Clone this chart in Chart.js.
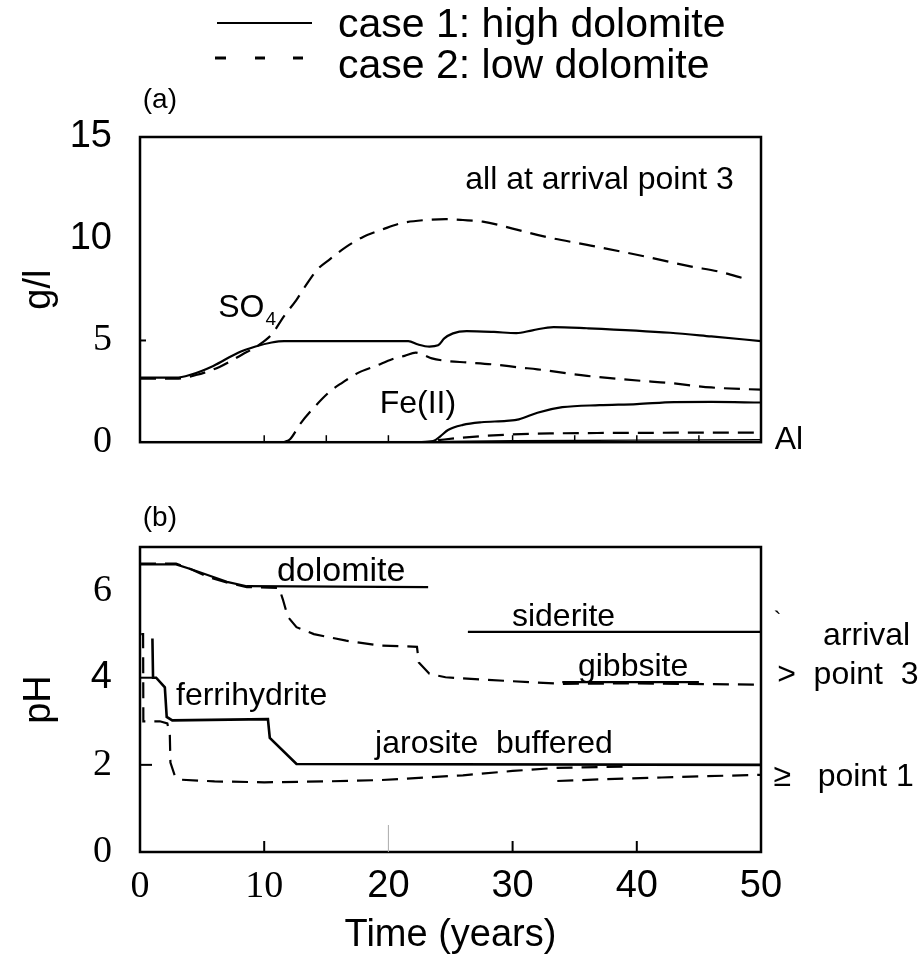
<!DOCTYPE html>
<html>
<head>
<meta charset="utf-8">
<script src="https://cdn.jsdelivr.net/npm/chart.js@4.4.0/dist/chart.umd.min.js"></script>
<style>
  html, body { margin: 0; padding: 0; background: #fff; }
  #wrap { position: relative; width: 923px; height: 959px; }
  canvas { position: absolute; left: 0; }
  #chart-a { top: 0; z-index: 2; }
  #chart-b { top: 470px; z-index: 1; }
</style>
</head>
<body>
<div id="wrap">
  <canvas id="chart-a" width="923" height="493"></canvas>
  <canvas id="chart-b" width="923" height="489"></canvas>
</div>
<script>
// ---------- data ----------
const timeTicks = [0, 10, 20, 30, 40, 50];
const gTicks = [0, 5, 10, 15];
const phTicks = [0, 2, 4, 6];

// (a) concentrations in g/l at arrival point 3, [year, value]
const so4High = [[0,3.17],[2.9,3.17],[4,3.3],[5.9,3.75],[7.9,4.4],[9.3,4.7],[10.6,4.9],[11.6,4.97],[21.6,4.97],[22.4,4.8],[23.3,4.7],[24,4.76],[24.5,5.1],[25.2,5.35],[26.3,5.46],[28.5,5.42],[30.3,5.36],[31.6,5.5],[33.3,5.66],[36,5.6],[42.7,5.38],[46,5.2],[50,4.97]];
const so4Low = [[0,3.12],[2.9,3.12],[4.5,3.3],[6.4,3.7],[8.2,4.3],[9.5,4.75],[10.6,5.3],[11.6,6.2],[12.6,7.0],[13.3,7.66],[14.3,8.5],[15.3,9.0],[16.6,9.6],[18,10.1],[19.5,10.45],[21,10.76],[23,10.92],[24.6,10.96],[26,10.92],[27.6,10.84],[30,10.5],[32.6,10.1],[36,9.7],[39.3,9.3],[42,8.95],[44.3,8.64],[46.5,8.4],[48.8,8.02]];
const feHigh = [[22.4,0],[23.6,0.05],[24.2,0.3],[24.8,0.6],[26,0.85],[27.5,0.98],[29.5,1.05],[30.5,1.12],[32,1.45],[34,1.72],[37,1.82],[40,1.87],[43,1.97],[46,1.98],[50,1.95]];
const feLow = [[11.6,0],[12.1,0.16],[12.9,0.9],[14,1.7],[15.3,2.5],[16.3,2.93],[17.6,3.42],[19,3.75],[20.3,4.08],[21.3,4.24],[22.2,4.4],[22.8,4.3],[23.5,4.12],[24.6,4.0],[26.3,3.92],[28.3,3.83],[30.6,3.67],[32,3.58],[36,3.26],[40.7,3.0],[42.3,2.93],[46,2.69],[50,2.58]];
const alHigh = [[23,0.02],[30,0.07],[40,0.1],[50,0.12]];
const alLow = [[24,0.1],[25.5,0.2],[27.5,0.3],[30,0.38],[33,0.43],[40,0.46],[50,0.47]];

// (b) pH, [year, value]
const dolomiteHigh = [[0,6.6],[2.9,6.6],[4,6.5],[5.5,6.35],[7,6.2],[8.6,6.1],[23.2,6.08]];
const sideriteHigh = [[26.4,5.05],[50,5.05]];
const gibbsiteHigh = [[34,3.9],[45,3.9]];
const phLow3 = [[0,6.62],[2.9,6.62],[4.2,6.48],[5.6,6.3],[7.2,6.17],[8.6,6.08],[11.2,6.06],[11.5,5.8],[11.9,5.4],[12.6,5.16],[14,5.0],[16.6,4.85],[19.3,4.74],[22.3,4.71],[22.45,4.35],[23.3,4.09],[24.6,4.01],[29.3,3.93],[34,3.86],[39.3,3.87],[50,3.84]];
const phHigh1 = [[1.0,4.9],[1.05,4.0],[1.3,4.0],[2.0,3.78],[2.15,3.1],[2.6,3.02],[10.3,3.05],[10.45,2.62],[12.6,2.02],[50,2.0]];
const phLow1 = [[0.1,5.0],[0.25,5.0],[0.27,3.0],[1.6,3.0],[2.2,2.95],[2.4,2.7],[2.45,2.05],[2.8,1.75],[3.3,1.66],[6,1.62],[10,1.6],[15,1.62],[19.3,1.65],[26,1.76],[30,1.86],[33.5,1.93],[39.3,1.96]];
const phLow1b = [[33.6,1.63],[37.3,1.67],[42,1.71],[45.5,1.74],[50,1.77]];

// tick labels that are set in a serif face in the original
const serifTicks = { x: [0, 10], g: [0, 5], ph: [0, 2, 6] };

// ---------- helpers ----------
const FAMILY = '"Liberation Sans", Arial, Helvetica, sans-serif';
const SERIF = '"Liberation Serif", "Times New Roman", serif';
const pts = (a) => a.map(([x, y]) => ({ x, y }));
const DASH = [16, 9];

function line(data, dashed, opts) {
  return Object.assign({
    data: pts(data),
    borderColor: '#000',
    borderWidth: 2.2,
    borderDash: dashed ? DASH : [],
    pointRadius: 0,
    fill: false,
    tension: 0,
  }, opts || {});
}

// box round the plot area
const frame = {
  id: 'frame',
  afterDatasetsDraw(chart) {
    const { ctx, chartArea: a } = chart;
    ctx.save();
    ctx.strokeStyle = '#000';
    ctx.lineWidth = 2.5;
    ctx.strokeRect(a.left, a.top, a.right - a.left, a.bottom - a.top);
    ctx.restore();
  }
};

// short tick marks pointing into the plot, placed by the scales
function innerTicks(list) {
  return {
    id: 'innerTicks',
    afterDatasetsDraw(chart) {
      const { ctx, chartArea: a, scales } = chart;
      ctx.save();
      for (const t of list) {
        ctx.strokeStyle = t.color || '#000';
        ctx.lineWidth = t.width || 2;
        ctx.beginPath();
        if (t.axis === 'x') {
          const px = scales.x.getPixelForValue(t.value);
          ctx.moveTo(px, a.bottom); ctx.lineTo(px, a.bottom - t.len);
        } else {
          const py = scales.y.getPixelForValue(t.value);
          ctx.moveTo(a.left, py); ctx.lineTo(a.left + t.len, py);
        }
        ctx.stroke();
      }
      ctx.restore();
    }
  };
}

// text labels, placed in data units
function notes(list) {
  return {
    id: 'notes',
    afterDraw(chart) {
      const { ctx, scales } = chart;
      ctx.save();
      ctx.fillStyle = '#000';
      ctx.textBaseline = 'middle';
      for (const n of list) {
        const size = n.size || 32;
        ctx.font = size + 'px ' + FAMILY;
        ctx.textAlign = n.align || 'center';
        const px = scales.x.getPixelForValue(n.x);
        const py = scales.y.getPixelForValue(n.y);
        ctx.fillText(n.text, px, py);
        if (n.sub) {
          const w = ctx.measureText(n.text).width;
          const start = n.align === 'left' ? px : px - w / 2;
          ctx.font = Math.round(size * 0.6) + 'px ' + FAMILY;
          ctx.textAlign = 'left';
          ctx.fillText(n.sub, start + w + 1, py + size * 0.38);
        }
      }
      ctx.restore();
    }
  };
}

// legend at the top of the figure
const legendBlock = {
  id: 'legendBlock',
  afterDraw(chart) {
    const ctx = chart.ctx;
    ctx.save();
    ctx.strokeStyle = '#000';
    ctx.lineWidth = 2.2;
    ctx.beginPath(); ctx.moveTo(217, 23); ctx.lineTo(312, 23); ctx.stroke();
    ctx.lineWidth = 3;
    for (const [a, b] of [[215, 226], [255, 265], [293, 303]]) {
      ctx.beginPath(); ctx.moveTo(a, 58); ctx.lineTo(b, 58); ctx.stroke();
    }
    ctx.fillStyle = '#000';
    ctx.font = '41px ' + FAMILY;
    ctx.textAlign = 'left';
    ctx.textBaseline = 'alphabetic';
    ctx.fillText('case 1: high dolomite', 338, 37);
    ctx.fillText('case 2: low dolomite', 338, 78);
    ctx.restore();
  }
};

const tickFont = (serifList) => (c) => ({
  family: c.tick && serifList.includes(c.tick.value) ? SERIF : FAMILY,
  size: 38
});

function axisX(showLabels) {
  return {
    type: 'linear', min: 0, max: 50,
    afterBuildTicks: (s) => { s.ticks = timeTicks.map(v => ({ value: v })); },
    afterFit: (s) => { s.height = showLabels ? 107 : 27; },
    grid: { display: false, drawTicks: false },
    border: { display: false },
    ticks: { display: showLabels, color: '#000', padding: 12, maxRotation: 0, font: tickFont(serifTicks.x) },
    title: showLabels ? { display: true, text: 'Time (years)', color: '#000', padding: { top: 0, bottom: 1 }, font: { family: FAMILY, size: 38 } } : { display: false }
  };
}

function axisY(max, tickList, serifList, label) {
  return {
    type: 'linear', min: 0, max: max,
    afterBuildTicks: (s) => { s.ticks = tickList.map(v => ({ value: v })); },
    afterFit: (s) => { s.width = 140; },
    grid: { display: false, drawTicks: false },
    border: { display: false },
    ticks: { color: '#000', padding: 28, font: tickFont(serifList) },
    title: { display: true, text: label, color: '#000', padding: { top: 17, bottom: 0 }, font: { family: FAMILY, size: 38 } }
  };
}

const common = {
  responsive: false,
  animation: false,
  events: [],
  plugins: { legend: { display: false }, tooltip: { enabled: false } },
};

// ---------- panel (a) ----------
new Chart(document.getElementById('chart-a'), {
  type: 'line',
  data: {
    datasets: [
      line(so4High, false, { cubicInterpolationMode: 'monotone' }),
      line(so4Low, true, { cubicInterpolationMode: 'monotone' }),
      line(feHigh, false, { cubicInterpolationMode: 'monotone' }),
      line(feLow, true, { cubicInterpolationMode: 'monotone' }),
      line(alHigh, false, { borderWidth: 1.4 }),
      line(alLow, true, { cubicInterpolationMode: 'monotone' }),
    ]
  },
  options: Object.assign({}, common, {
    layout: { padding: { left: 0, top: 137, right: 162, bottom: 0 } },
    scales: { x: axisX(false), y: axisY(15, gTicks, serifTicks.g, 'g/l') }
  }),
  plugins: [frame, legendBlock,
    innerTicks([
      { axis: 'y', value: 5, len: 6 },
      ...[10, 15, 20, 30, 35, 40, 45].map(v => ({ axis: 'x', value: v, len: 7, width: 1.5 }))
    ]),
    notes([
      { text: '(a)', x: 1.6, y: 16.8, size: 28 },
      { text: 'all at arrival point 3', x: 37.0, y: 12.9 },
      { text: 'SO', x: 6.3, y: 6.6, align: 'left', sub: '4' },
      { text: 'Fe(II)', x: 19.3, y: 1.85, align: 'left' },
      { text: 'Al', x: 51.1, y: 0.1, align: 'left' },
    ])
  ]
});

// ---------- panel (b) ----------
new Chart(document.getElementById('chart-b'), {
  type: 'line',
  data: {
    datasets: [
      line(dolomiteHigh, false),
      line(sideriteHigh, false),
      line(gibbsiteHigh, false),
      line(phLow3, true),
      line(phHigh1, false, { borderWidth: 2.6 }),
      line(phLow1, true),
      line(phLow1b, true),
    ]
  },
  options: Object.assign({}, common, {
    layout: { padding: { left: 0, top: 77, right: 162, bottom: 0 } },
    scales: { x: axisX(true), y: axisY(7, phTicks, serifTicks.ph, 'pH') }
  }),
  plugins: [frame,
    innerTicks([
      { axis: 'y', value: 2, len: 12 },
      { axis: 'y', value: 4, len: 12 },
      { axis: 'x', value: 10, len: 11 },
      { axis: 'x', value: 30, len: 11 },
      { axis: 'x', value: 40, len: 11 },
      { axis: 'x', value: 20, len: 27, width: 1, color: '#aaa' },
    ]),
    notes([
      { text: '(b)', x: 1.6, y: 7.66, size: 28 },
      { text: 'dolomite', x: 16.2, y: 6.43, size: 34 },
      { text: 'siderite', x: 34.1, y: 5.4 },
      { text: 'gibbsite', x: 39.7, y: 4.24 },
      { text: 'ferrihydrite', x: 2.9, y: 3.57, align: 'left' },
      { text: 'jarosite  buffered', x: 28.5, y: 2.48 },
      { text: '`', x: 51.0, y: 5.3, size: 24, align: 'left' },
      { text: 'arrival', x: 55.0, y: 4.95, align: 'left' },
      { text: '>  point  3', x: 51.3, y: 4.06, align: 'left' },
      { text: '\u2265   point 1', x: 51.0, y: 1.72, align: 'left' },
    ])
  ]
});
</script>
</body>
</html>
